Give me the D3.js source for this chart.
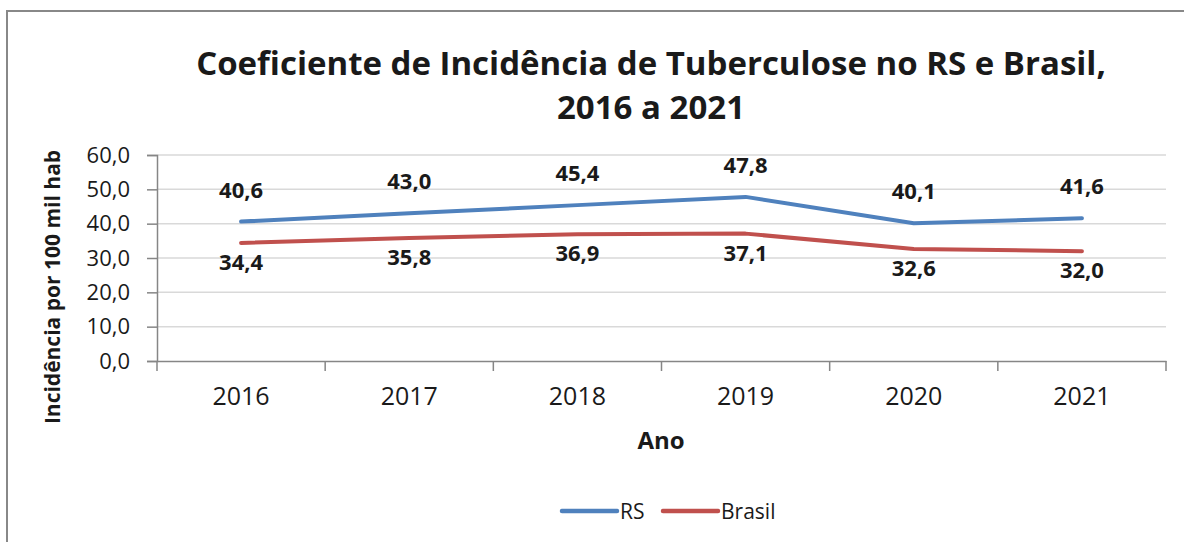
<!DOCTYPE html>
<html>
<head>
<meta charset="utf-8">
<script src="https://cdn.jsdelivr.net/npm/d3@7"></script>
<style>
  body { margin: 0; background: #fff; }
  text { font-family: "Open Sans", sans-serif; fill: #1a1a1a; }
</style>
</head>
<body>
<div id="viz"></div>
<script>
const years = ["2016", "2017", "2018", "2019", "2020", "2021"];
const rsValues = [40.6, 43.0, 45.4, 47.8, 40.1, 41.6];
const brasilValues = [34.4, 35.8, 36.9, 37.1, 32.6, 32.0];
const yTicks = [0, 10, 20, 30, 40, 50, 60];
const seriesNames = ["RS", "Brasil"];
const seriesColors = ["#4f81bd", "#c0504d"];

const width = 1184, height = 542;
const margin = {top: 155, right: 18, bottom: 181, left: 157};
const innerW = width - margin.left - margin.right,
      innerH = height - margin.top - margin.bottom;

const fmt = v => v.toFixed(1).replace(".", ",");

const svg = d3.select("#viz")
    .append("svg")
        .attr("width", width)
        .attr("height", height);

// outer chart frame
svg.append("rect")
    .attr("x", 7).attr("y", 11)
    .attr("width", 1200).attr("height", 600)
    .attr("fill", "none")
    .attr("stroke", "#888")
    .attr("stroke-width", 2);

// title
const title = svg.append("text")
    .attr("text-anchor", "middle")
    .style("font-weight", "bold")
    .style("font-size", "33px");
title.append("tspan").attr("x", 651).attr("y", 75)
    .text("Coeficiente de Incidência de Tuberculose no RS e Brasil,");
title.append("tspan").attr("x", 651).attr("y", 119)
    .text("2016 a 2021");

const g = svg.append("g")
    .attr("transform", `translate(${margin.left},${margin.top})`);

const x = d3.scaleBand()
    .domain(years)
    .range([0, innerW]);

const y = d3.scaleLinear()
    .domain([0, 60])
    .range([innerH, 0]);

// gridlines
g.selectAll(".grid")
    .data(yTicks.filter(d => d > 0))
    .enter()
    .append("line")
        .attr("x1", 0).attr("x2", innerW)
        .attr("y1", d => y(d)).attr("y2", d => y(d))
        .attr("stroke", "#d9d9d9")
        .attr("stroke-width", 1.5);

// y axis
const yAxis = g.append("g")
    .call(d3.axisLeft(y).tickValues(yTicks).tickFormat(fmt).tickSize(10).tickPadding(17));
yAxis.select(".domain").attr("stroke", "#868686").attr("stroke-width", 1.5);
yAxis.selectAll(".tick line").attr("stroke", "#868686").attr("stroke-width", 1.5);
yAxis.selectAll("text")
    .style("font-size", "22px")
    .style("font-family", "Open Sans")
    .attr("fill", "#1a1a1a");

// x axis: baseline and boundary ticks
const xAxis = g.append("g")
    .attr("transform", `translate(0,${innerH})`)
    .call(d3.axisBottom(x).tickSize(0).tickPadding(26));
xAxis.select(".domain").attr("stroke", "#868686").attr("stroke-width", 1.5);
xAxis.selectAll("text")
    .style("font-size", "25px")
    .style("font-family", "Open Sans")
    .attr("fill", "#1a1a1a");
xAxis.selectAll(".bound")
    .data(years.map(d => x(d)).concat([innerW]))
    .enter()
    .append("line")
        .attr("x1", d => d).attr("x2", d => d)
        .attr("y1", 0).attr("y2", 10)
        .attr("stroke", "#868686")
        .attr("stroke-width", 1.5);

// axis titles
svg.append("text")
    .attr("text-anchor", "middle")
    .attr("transform", "translate(60,287) rotate(-90)")
    .style("font-weight", "bold")
    .style("font-size", "21px")
    .text("Incidência por 100 mil hab");

svg.append("text")
    .attr("x", 661).attr("y", 449)
    .attr("text-anchor", "middle")
    .style("font-weight", "bold")
    .style("font-size", "24px")
    .text("Ano");

// lines
const series = [rsValues, brasilValues];
const line = d3.line()
    .x((d, i) => x(years[i]) + x.bandwidth() / 2)
    .y(d => y(d));

g.selectAll(".series")
    .data(series)
    .enter()
    .append("path")
        .attr("d", d => line(d))
        .attr("fill", "none")
        .attr("stroke", (d, i) => seriesColors[i])
        .attr("stroke-width", 4)
        .attr("stroke-linejoin", "round")
        .attr("stroke-linecap", "round");

// data labels: RS above, Brasil below
g.selectAll(".lab-rs")
    .data(rsValues)
    .enter()
    .append("text")
        .attr("x", (d, i) => x(years[i]) + x.bandwidth() / 2)
        .attr("y", d => y(d) - 24)
        .attr("text-anchor", "middle")
        .style("font-weight", "bold")
        .style("font-size", "22px")
        .text(fmt);

g.selectAll(".lab-br")
    .data(brasilValues)
    .enter()
    .append("text")
        .attr("x", (d, i) => x(years[i]) + x.bandwidth() / 2)
        .attr("y", d => y(d) + 27)
        .attr("text-anchor", "middle")
        .style("font-weight", "bold")
        .style("font-size", "22px")
        .text(fmt);

// legend
const legend = svg.append("g");
const legendX = [562, 663];
seriesNames.forEach(function(name, i) {
    legend.append("line")
        .attr("x1", legendX[i]).attr("x2", legendX[i] + 55)
        .attr("y1", 511).attr("y2", 511)
        .attr("stroke", seriesColors[i])
        .attr("stroke-width", 4.5)
        .attr("stroke-linecap", "round");
    legend.append("text")
        .attr("x", legendX[i] + 58).attr("y", 519)
        .style("font-size", "21px")
        .text(name);
});
</script>
</body>
</html>
